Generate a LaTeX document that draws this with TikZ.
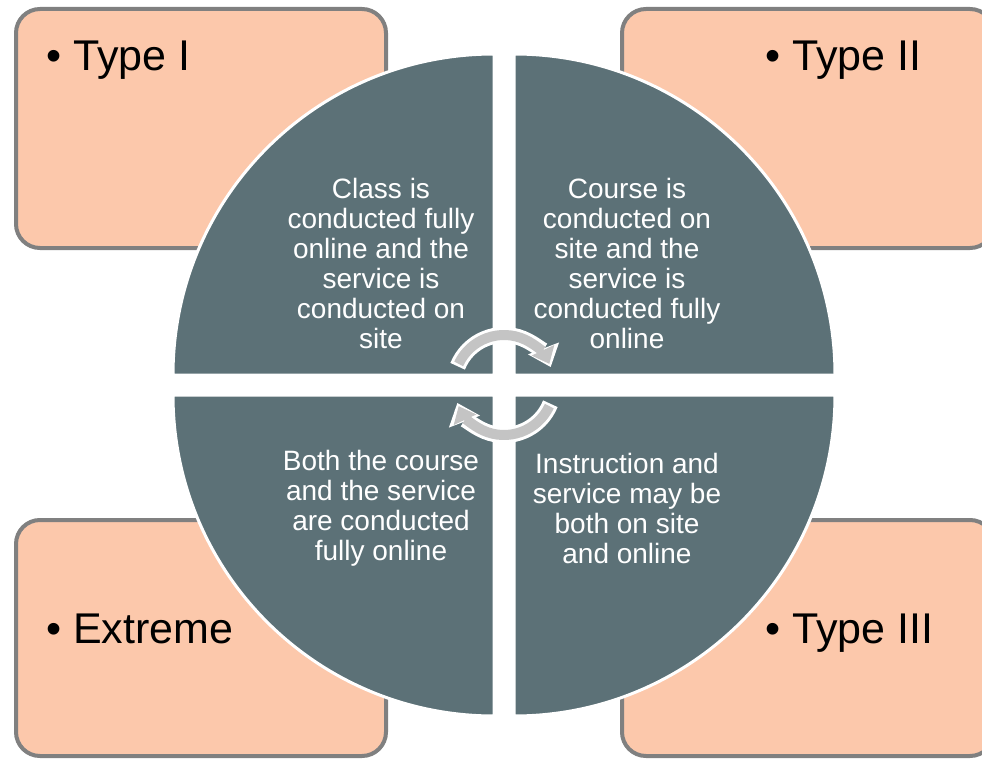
\documentclass[tikz,border=0pt]{standalone}
\usepackage{fontspec}
\setmainfont{Liberation Sans}
\usetikzlibrary{arrows.meta}
\definecolor{slate}{HTML}{5C7177}
\definecolor{peach}{HTML}{FCC8AB}
\definecolor{rim}{HTML}{808080}
\definecolor{cyc}{HTML}{C4C4C4}
\begin{document}
\begin{tikzpicture}[x=1pt,y=1pt,
  box/.style={draw=rim, fill=peach, line width=4, rounded corners=24, inner sep=0},
  quad/.style={fill=slate, draw=white, line width=3},
  txt/.style={text=white, align=center, font=\fontsize{28}{30}\selectfont, inner sep=0},
  lbl/.style={anchor=base west, font=\fontsize{43}{50}\selectfont, inner sep=0}]
\useasboundingbox (0,0) rectangle (982,-762);
\node[box, minimum width=370, minimum height=239] (1) at (201,-128.5) {};
\node[box, minimum width=372, minimum height=239] (2) at (808,-128.5) {};
\node[box, minimum width=370, minimum height=236] (4) at (201,-638) {};
\node[box, minimum width=372, minimum height=236] (3) at (808,-638) {};

\node[lbl] (l1) at (46,-71) {• Type I};
\node[lbl] (l2) at (765,-71) {• Type II};
\node[lbl] (l3) at (765,-643) {• Type III};
\node[lbl] (l4) at (46,-643) {• Extreme};

\path[quad] (494,-375) -- ++(-321,0) arc[start angle=180, end angle=90, radius=321] -- cycle;
\path[quad] (514,-375) -- ++(0,321) arc[start angle=90, end angle=0, radius=321] -- cycle;
\path[quad] (514,-395) -- ++(321,0) arc[start angle=0, end angle=-90, radius=321] -- cycle;
\path[quad] (494,-395) -- ++(0,-321) arc[start angle=270, end angle=180, radius=321] -- cycle;

\node[txt] (q1) at (381,-263) {Class is\\conducted fully\\online and the\\service is\\conducted on\\site};
\node[txt] (q2) at (627,-263) {Course is\\conducted on\\site and the\\service is\\conducted fully\\online};
\node[txt] (q3) at (627,-508) {Instruction and\\service may be\\both on site\\and online};
\node[txt] (q4) at (381,-508) {Both the course\\and the service\\are conducted\\fully online};

\coordinate (c) at (504,-385);
\draw[white, line width=16, -{Triangle[width=32pt,length=20pt]}] (c) ++(158:50) arc[start angle=158, end angle=21, radius=50];
\draw[cyc, line width=10, -{Triangle[width=24pt,length=15pt]}] (c) ++(155:50) arc[start angle=155, end angle=25, radius=50];
\draw[white, line width=16, -{Triangle[width=32pt,length=20pt]}] (c) ++(-22:50) arc[start angle=-22, end angle=-159, radius=50];
\draw[cyc, line width=10, -{Triangle[width=24pt,length=15pt]}] (c) ++(-25:50) arc[start angle=-25, end angle=-155, radius=50];
\end{tikzpicture}
\end{document}
